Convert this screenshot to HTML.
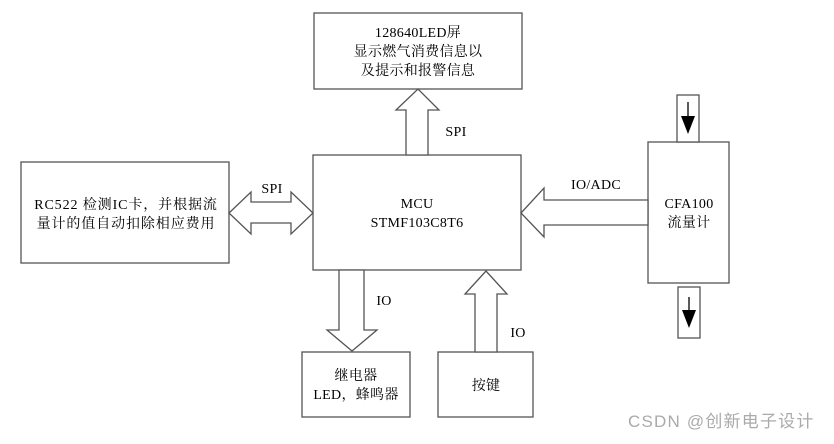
<!DOCTYPE html>
<html><head><meta charset="utf-8"><style>
body{margin:0;background:#fff;}
svg text{font-family:"Liberation Serif","Noto Serif CJK SC",serif;font-size:14px;fill:#000;letter-spacing:0.3px;}
</style></head><body>
<svg width="834" height="439" viewBox="0 0 834 439" xmlns="http://www.w3.org/2000/svg">
<g fill="#fff" stroke="#555" stroke-width="1.3">
<rect x="314" y="13" width="208" height="76"/>
<rect x="313" y="155" width="208" height="115"/>
<rect x="21" y="162" width="208" height="101"/>
<rect x="648" y="142" width="81" height="141"/>
<rect x="677" y="95" width="22" height="47"/>
<rect x="678" y="287" width="22" height="51"/>
<rect x="302" y="352" width="108" height="65"/>
<rect x="438" y="352" width="95" height="65"/>
<polygon points="406,155 406,110 396,110 418,89 439,110 428,110 428,155"/>
<polygon points="229,213 251,192 251,202 291,202 291,192 313,213 291,234 291,223 251,223 251,234"/>
<polygon points="648,200 544,200 544,188 521,213 544,237 544,225 648,225"/>
<polygon points="339,270 339,330 327,330 352,351 377,330 364,330 364,270"/>
<polygon points="475,352 475,294 465,294 486,271 507,294 497,294 497,352"/>
</g>
<g stroke="#000" stroke-width="1.3"><line x1="688" y1="102" x2="688" y2="120"/><line x1="689" y1="297" x2="689" y2="312"/></g>
<polygon points="681,116 695,116 688,134" fill="#000"/>
<polygon points="682,310 696,310 689,328" fill="#000"/>
<g text-anchor="middle">
<text x="418" y="37">128640LED屏</text>
<text x="418" y="56">显示燃气消费信息以</text>
<text x="418" y="75">及提示和报警信息</text>
<text x="417" y="208">MCU</text>
<text x="417" y="227">STMF103C8T6</text>
<text x="126" y="209" style="letter-spacing:0.9px">RC522 检测IC卡，并根据流</text>
<text x="126" y="228" style="letter-spacing:0.9px">量计的值自动扣除相应费用</text>
<text x="689" y="208">CFA100</text>
<text x="689" y="227">流量计</text>
<text x="356" y="380">继电器</text>
<text x="356" y="399">LED，蜂鸣器</text>
<text x="486" y="390">按键</text>
<text x="272" y="193">SPI</text>
<text x="456" y="136">SPI</text>
<text x="596" y="189">IO/ADC</text>
<text x="384" y="305">IO</text>
<text x="518" y="337">IO</text>
</g>
<text x="628" y="427" style="font-family:'Liberation Sans','Noto Sans CJK SC',sans-serif;font-size:17px;fill:#aaa;letter-spacing:1.2px;">CSDN @创新电子设计</text>
</svg>
</body></html>
